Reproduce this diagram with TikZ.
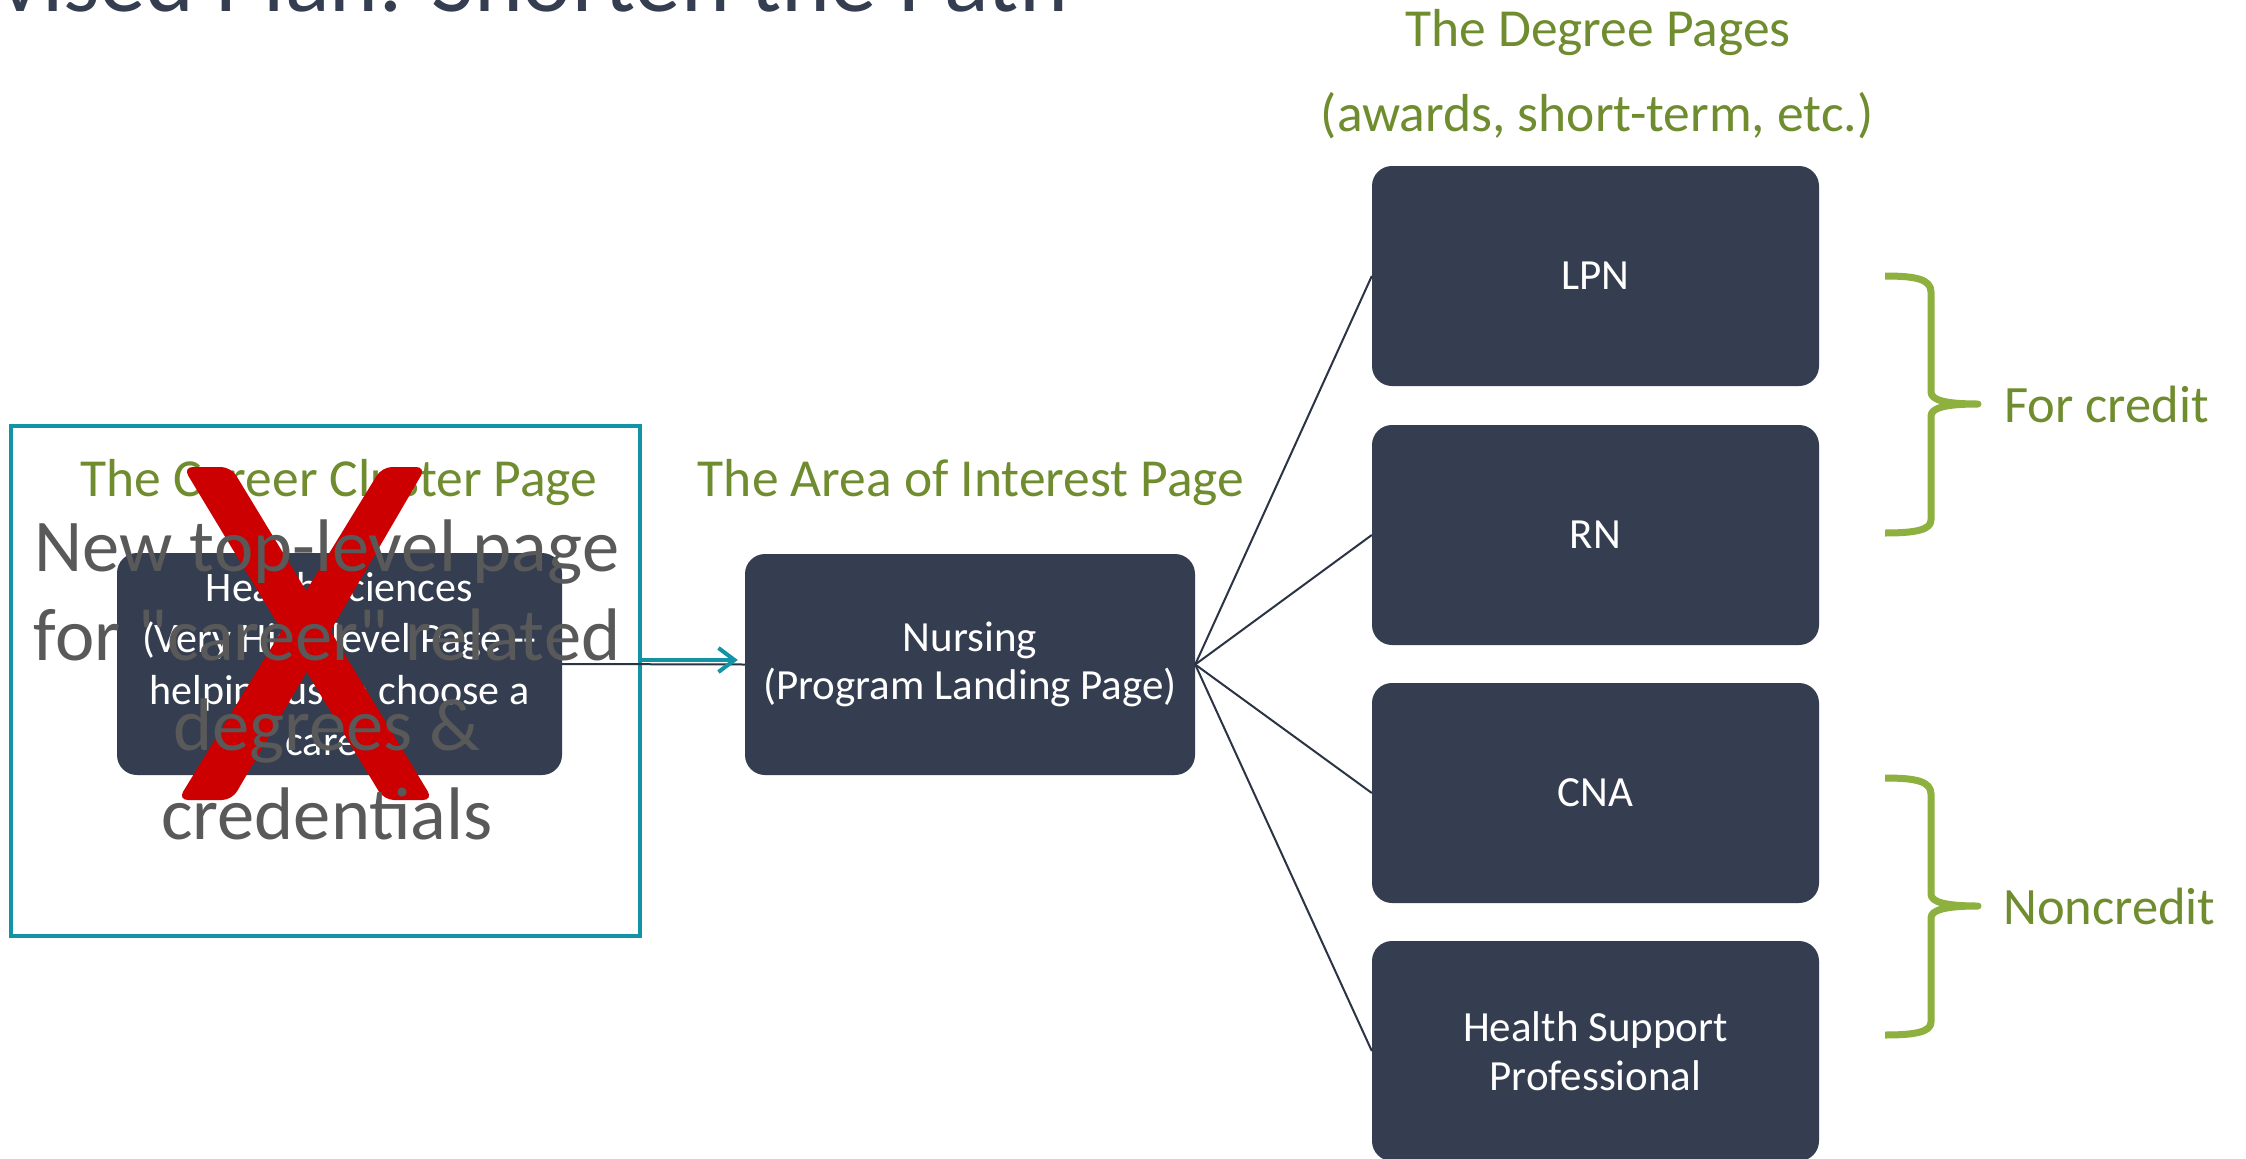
\documentclass[tikz,border=0pt]{standalone}
\usepackage{fontspec}
\setmainfont{Carlito}[Ligatures=TeXOff]
\usetikzlibrary{arrows.meta}
\definecolor{boxc}{HTML}{343E50}
\definecolor{tealc}{HTML}{1294A6}
\definecolor{greent}{HTML}{6F8C2F}
\definecolor{bracec}{HTML}{8DB03F}
\definecolor{redx}{HTML}{CC0000}
\definecolor{grayt}{HTML}{595959}
\definecolor{linec}{HTML}{2B3445}
\definecolor{titlec}{HTML}{343E50}
\begin{document}
\begin{tikzpicture}[x=1pt,y=-1pt,
  pagebox/.style={rectangle, rounded corners=20pt, fill=boxc, text=white, align=center, inner sep=0pt, font=\fontsize{43}{48.5}\selectfont},
  degbox/.style={pagebox, minimum width=447pt, minimum height=220pt},
  greenlbl/.style={text=greent, inner sep=0pt, anchor=base, font=\fontsize{53.5}{62}\selectfont},
  graylbl/.style={text=grayt, inner sep=0pt, anchor=base, font=\fontsize{74.5}{88}\selectfont},
  conn/.style={draw=linec, line width=2pt},
  rbrace/.pic={\draw[bracec, line width=7pt, line join=round]
     (-93,-128) .. controls (-63,-128) and (-47,-125) .. (-47,-112) -- (-47,-12)
     .. controls (-47,-4) and (-33,0) .. (0,0)
     .. controls (-33,0) and (-47,4) .. (-47,12) -- (-47,116)
     .. controls (-47,126) and (-63,129) .. (-93,129);}
]
\useasboundingbox (0,0) rectangle (2246,1159);
\fill[white] (0,0) rectangle (2246,1159);
\clip (0,0) rectangle (2246,1159);

% title (cut off at the top)
\node[anchor=base west, inner sep=0pt, text=titlec, font=\fontsize{93}{110}\selectfont] (title) at (-95,11) {Revised Plan: Shorten the Path};

% teal frame
\node[draw=tealc, line width=4pt, minimum width=629pt, minimum height=510pt, inner sep=0pt] (cluster) at (325.5,681) {};

% green labels
\node[greenlbl] (lclu) at (339,496) {The Career Cluster Page};
\node[greenlbl] (laoi) at (971,496) {The Area of Interest Page};
\node[greenlbl] (ldeg1) at (1598,46) {The Degree Pages};
\node[greenlbl] (ldeg2) at (1597,131) {(awards, short-term, etc.)};

% boxes
\node[pagebox, minimum width=445pt, minimum height=222pt, font=\fontsize{42}{51.5}\selectfont] (career) at (339.5,664)
  {Health Sciences\\(Very High-level Page --\\helping us to choose a\\career};
\node[pagebox, minimum width=450pt, minimum height=221pt, font=\fontsize{43}{47.5}\selectfont] (nursing) at (970,664.5)
  {Nursing\\(Program Landing Page)};
\node[degbox] (lpn) at (1595.5,276) {LPN};
\node[degbox] (rn) at (1595.5,535) {RN};
\node[degbox] (cna) at (1595.5,793) {CNA};
\node[degbox] (hsp) at (1595.5,1051) {Health Support\\Professional};

% connectors
\draw[conn] (career.east) -- (nursing.west);
\foreach \d in {lpn,rn,cna,hsp} \draw[conn] (nursing.east) -- (\d.west);
\draw[tealc, line width=4pt, shorten >=7pt, -{Straight Barb[length=16pt,width=24pt]}]
  ([yshift=21pt]cluster.east) -- ([yshift=4.5pt]nursing.west);

% red X
\fill[redx, rounded corners=10pt] (183,467) -- (231,467) -- (433,800) -- (384,800) -- cycle;
\fill[redx, rounded corners=10pt] (382,467) -- (426,467) -- (232,800) -- (178,800) -- cycle;

% gray overlay text
\node[graylbl] (g1) at (327,571) {New top-level page};
\node[graylbl] (g2) at (327,660) {for "career" related};
\node[graylbl] (g3) at (327,750) {degrees \&};
\node[graylbl] (g4) at (327,839) {credentials};

% braces and their labels
\pic at (1978,404) {rbrace};
\pic at (1978,906) {rbrace};
\node[greenlbl, anchor=base west, font=\fontsize{52.5}{62}\selectfont] (lcredit) at (2004,422) {For credit};
\node[greenlbl, anchor=base west, font=\fontsize{52.5}{62}\selectfont] (lnon) at (2003,924) {Noncredit};
\end{tikzpicture}
\end{document}
